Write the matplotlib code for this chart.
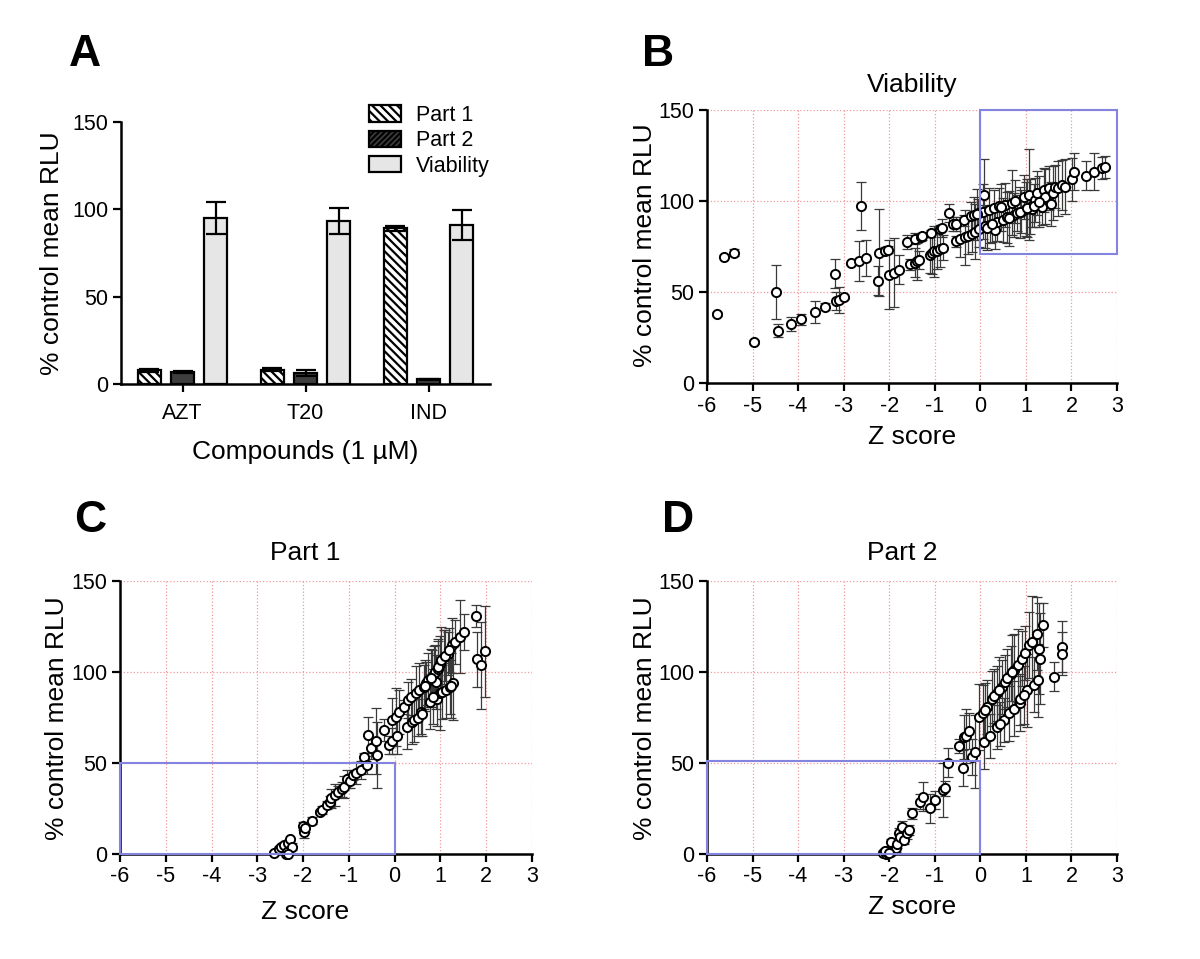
import matplotlib
matplotlib.use("Agg")
import matplotlib.pyplot as plt
from matplotlib.patches import Rectangle, Patch
import numpy as np

plt.rcParams['font.family'] = ['Liberation Sans', 'DejaVu Sans']
plt.rcParams['hatch.linewidth'] = 1.6
plt.rcParams['axes.unicode_minus'] = False

# ---------------- Panel A data ----------------
compounds = ["AZT", "T20", "IND"]
part1_vals = [7.8, 8.2, 89.1]
part1_err = [1.0, 1.0, 1.6]
part2_vals = [7.0, 6.3, 2.7]
part2_err = [0.5, 1.5, 0.3]
viab_vals = [95.0, 93.3, 91.2]
viab_err = [9.4, 7.6, 8.6]

# ---------------- Panel B (Viability) ----------------
b_z = [-5.77, -5.62, -5.41, -4.96, -4.48, -4.45, -4.16, -3.94, -3.64, -3.41,
       -3.18, -3.16, -3.10, -2.99, -2.84, -2.66, -2.61, -2.52, -2.24, -2.23,
       -2.10, -2.03, -2.01, -1.90, -1.79, -1.61, -1.54, -1.44, -1.43, -1.38,
       -1.34, -1.31, -1.27, -1.11, -1.09, -1.05, -1.01, -0.95, -0.89, -0.88,
       -0.85, -0.81, -0.69, -0.59, -0.54, -0.53, -0.44, -0.35, -0.33, -0.27,
       -0.21, -0.19, -0.14, -0.11, -0.05, -0.02, 0.08, 0.05, 0.11, 0.18,
       0.22, 0.30, 0.32, 0.36, 0.41, 0.49, 0.55, 0.59, 0.69, 0.73,
       0.81, 0.90, 0.95, 1.00, 1.06, 1.09, 1.14, 1.20, 1.24, 1.35,
       1.39, 1.43, 1.51, 1.55, 1.59, 1.64, 1.71, 1.80, 1.86, 2.02,
       2.06, 2.32, 2.50, 2.66, 2.74,
       -0.08, 0.14, 0.26, 0.45, 0.63, 0.77, 0.86, 1.03, 1.17, 1.29]
b_y = [38.0, 69.5, 71.7, 22.5, 49.9, 28.7, 32.4, 35.1, 39.0, 41.9,
       60.0, 45.0, 45.5, 47.0, 65.7, 67.1, 97.3, 68.6, 56.3, 71.7,
       72.8, 73.2, 59.4, 60.7, 62.2, 77.4, 65.3, 79.2, 66.2, 66.8,
       67.7, 80.1, 80.5, 70.4, 82.3, 71.7, 72.3, 72.6, 73.5, 84.7,
       85.1, 74.4, 93.3, 87.4, 87.4, 77.9, 79.0, 89.4, 80.1, 81.0,
       91.5, 82.1, 92.4, 83.2, 93.3, 84.5, 103.3, 94.2, 86.0, 95.1,
       86.9, 96.0, 83.8, 88.2, 97.0, 89.6, 97.9, 91.0, 99.1, 92.2,
       93.3, 94.2, 102.1, 95.5, 103.3, 96.9, 95.7, 100.6, 104.3, 96.9,
       106.1, 102.4, 107.0, 98.2, 104.3, 107.9, 107.0, 108.8, 107.9, 111.9,
       116.2, 113.8, 116.2, 118.3, 118.9,
       92.8, 85.3, 87.6, 96.5, 90.5, 99.8, 93.8, 96.2, 97.5, 99.6]
b_err = [1, 1, 2, 1, 15, 3.5, 4, 3, 6, 2,
         8, 5, 7, 1, 1, 11, 13, 10, 8, 24,
         2, 2, 19, 19, 8, 4, 3, 3, 8, 10,
         5, 2, 2, 10, 2, 12, 14, 10, 10, 2,
         5, 7, 5, 4, 4, 3, 10, 3, 15, 10,
         8, 10, 10, 15, 8, 10, 20, 15, 12, 12,
         10, 10, 10, 10, 10, 12, 12, 14, 18, 12,
         10, 12, 12, 15, 25, 15, 10, 12, 12, 10,
         12, 15, 12, 12, 15, 12, 15, 14, 15, 12,
         10, 8, 10, 6, 6,
         14, 12, 10, 13, 15, 12, 14, 16, 12, 14]

# ---------------- Panel C (Part 1) ----------------
c_z = [-2.64, -2.53, -2.48, -2.42, -2.38, -2.35, -2.32, -2.28, -2.24, -2.34,
       -2.01, -1.99, -1.95, -1.81, -1.64, -1.58, -1.48, -1.42, -1.38, -1.31,
       -1.24, -1.16, -1.11, -1.05, -0.97, -0.91, -0.85, -0.74, -0.68, -0.60,
       -0.58, -0.52, -0.41, -0.38, -0.23, -0.13, -0.05, -0.05, 0.04, 0.06,
       0.10, 0.20, 0.26, 0.30, 0.36, 0.38, 0.43, 0.46, 0.53, 0.57,
       0.63, 0.69, 0.73, 0.77, 0.81, 0.85, 0.89, 0.90, 0.92, 0.95,
       0.98, 1.00, 1.04, 1.08, 1.12, 1.16, 1.21, 1.26, 1.28, 1.32,
       1.43, 1.51, 1.77, 1.79, 1.89, 1.98,
       0.66, 0.80, 0.94, 1.02, 1.10, 1.18, 0.50, 0.60, 0.84, 1.24]
c_y = [0.4, 2.6, 3.7, 4.9, 0.0, 1.3, 5.9, 8.0, 4.0, 0.0,
       15.4, 11.9, 14.1, 18.3, 23.2, 24.1, 26.9, 28.7, 30.5, 32.4,
       34.2, 35.5, 36.9, 41.0, 40.2, 43.4, 44.6, 46.1, 53.4, 48.8,
       65.3, 58.0, 62.2, 54.3, 68.0, 59.8, 73.5, 62.2, 75.4, 64.8,
       78.1, 80.8, 69.9, 84.5, 86.3, 72.6, 73.5, 88.2, 90.0, 78.1,
       91.8, 93.7, 95.5, 83.6, 97.3, 99.1, 100.1, 94.6, 85.4, 101.9,
       88.2, 104.6, 89.1, 108.3, 90.0, 110.1, 91.8, 114.7, 93.7, 116.5,
       119.3, 122.0, 130.6, 107.0, 103.7, 111.4,
       92.5, 96.5, 103.0, 106.5, 109.0, 112.0, 75.0, 77.0, 86.5, 92.5]
c_err = [1, 1, 1, 1, 1, 1, 1, 1, 2, 1,
         2, 3, 2, 2, 1, 2, 2, 3, 5, 6,
         3, 4, 6, 5, 4, 3, 6, 5, 2, 5,
         10, 6, 18, 18, 6, 5, 12, 7, 16, 10,
         12, 4, 12, 10, 10, 12, 12, 15, 15, 12,
         12, 12, 15, 15, 15, 15, 15, 15, 15, 15,
         20, 15, 15, 15, 15, 12, 15, 15, 20, 12,
         20, 10, 6, 15, 24, 25,
         14, 16, 15, 18, 14, 12, 10, 12, 15, 18]

# ---------------- Panel D (Part 2) ----------------
d_z = [-2.13, -2.08, -2.03, -1.97, -1.95, -1.85, -1.82, -1.79, -1.76, -1.72,
       -1.68, -1.60, -1.56, -1.50, -1.33, -1.25, -1.11, -0.99, -0.82, -0.78,
       -0.72, -0.46, -0.38, -0.36, -0.31, -0.25, -0.19, -0.11, -0.02, 0.05,
       0.08, 0.14, 0.22, 0.26, 0.36, 0.37, 0.48, 0.52, 0.55, 0.63,
       0.67, 0.75, 0.75, 0.83, 0.87, 0.92, 0.99, 1.02, 1.06, 1.14,
       1.18, 1.24, 1.26, 1.28, 1.30, 1.38, 1.61, 1.79, 1.79,
       -2.10, -2.00, 0.30, 0.42, 0.58, 0.70, 0.88, 0.96, 0.10, 0.44]
d_y = [0.7, 0.0, 0.4, 1.3, 6.4, 3.1, 5.5, 11.3, 9.5, 15.0,
       7.7, 11.3, 13.2, 22.3, 28.7, 31.5, 25.1, 29.6, 35.1, 36.0,
       50.1, 59.3, 47.4, 64.4, 64.8, 67.7, 53.4, 56.2, 75.4, 77.6,
       61.6, 80.8, 64.8, 85.4, 69.9, 88.2, 91.8, 73.5, 94.6, 77.2,
       99.1, 101.0, 79.9, 103.7, 82.7, 107.4, 110.5, 90.0, 114.7, 116.5,
       93.1, 121.1, 95.5, 112.9, 107.4, 125.7, 97.3, 113.8, 110.1,
       1.5, 0.8, 86.8, 90.2, 96.5, 100.2, 85.0, 87.5, 79.0, 71.5]
d_err = [1, 1, 1, 1, 2, 2, 2, 3, 3, 3,
         2, 3, 3, 3, 4, 8, 8, 5, 15, 4,
         8, 4, 10, 12, 15, 10, 10, 20, 18, 15,
         15, 15, 12, 15, 12, 15, 15, 12, 15, 15,
         15, 20, 15, 20, 15, 15, 15, 20, 18, 25,
         15, 20, 20, 25, 25, 12, 8, 14, 12,
         1, 1, 15, 18, 16, 20, 14, 16, 15, 12]

W, H = 1200, 959
fig = plt.figure(figsize=(12, 9.59), dpi=100)

def frac_axes(left, right, top, bottom):
    return fig.add_axes([left / W, (H - bottom) / H, (right - left) / W, (bottom - top) / H])

TICK_FS = 15.5
LABEL_FS = 19

def style_axes(ax):
    for s in ["top", "right"]:
        ax.spines[s].set_visible(False)
    for s in ["left", "bottom"]:
        ax.spines[s].set_linewidth(1.8)
    ax.tick_params(direction="out", length=6, width=1.6, labelsize=TICK_FS, pad=3)

# ---------------- Panel A ----------------
axA = frac_axes(121, 490, 122, 384)
style_axes(axA)
x = np.arange(len(compounds))
off = 0.27
bw = 0.19
ekw = dict(elinewidth=1.6, capthick=1.6, capsize=7, ecolor="black")
axA.bar(x - off, part1_vals, bw, color="white", edgecolor="black", lw=1.6, hatch="\\\\\\\\",
        yerr=part1_err, error_kw=ekw, zorder=2)
axA.bar(x, part2_vals, bw, color="#3e3e3e", edgecolor="black", lw=1.6,
        yerr=part2_err, error_kw=ekw, zorder=2)
axA.bar(x + off, viab_vals, bw, color="#e6e6e6", edgecolor="black", lw=1.6,
        yerr=viab_err, error_kw=ekw, zorder=2)
axA.set_xlim(-0.5, 2.5)
axA.set_ylim(0, 150)
axA.set_yticks([0, 50, 100, 150])
axA.set_xticks(x)
axA.set_xticklabels(compounds, fontsize=15.5)
axA.tick_params(axis="x", pad=8)
handles = [Patch(facecolor="white", edgecolor="black", hatch="\\\\\\\\", lw=1.6, label="Part 1"),
           Patch(facecolor="#3e3e3e", edgecolor="black", hatch="//////", lw=1.6, label="Part 2"),
           Patch(facecolor="#e6e6e6", edgecolor="black", lw=1.6, label="Viability")]
axA.legend(handles=handles, loc="upper right", bbox_to_anchor=(1.022, 1.098), frameon=False,
           fontsize=15.5, handlelength=1.45, handleheight=0.8, handletextpad=0.7, labelspacing=0.2,
           borderaxespad=0)

# ---------------- Scatter panels ----------------
def scatter_panel(ax, zs, ys, es, rect):
    style_axes(ax)
    ax.set_xlim(-6, 3)
    ax.set_ylim(0, 150)
    ax.set_xticks(range(-6, 4))
    ax.set_yticks([0, 50, 100, 150])
    ax.grid(True, color="#f29a9a", ls=":", lw=0.9, zorder=0)
    ax.set_axisbelow(True)
    ax.errorbar(zs, ys, yerr=es, fmt="none", ecolor="#3a3a3a", elinewidth=0.9,
                capsize=3.5, capthick=0.9, zorder=3)
    ax.plot(zs, ys, "o", ms=6.6, mfc="white", mec="black", mew=1.4, zorder=4, clip_on=False)
    ax.add_patch(Rectangle(rect[0], rect[1], rect[2], fill=False, ec="#8383e0", lw=1.5,
                           zorder=5, clip_on=False))

axB = frac_axes(707, 1117, 110, 383)
scatter_panel(axB, b_z, b_y, b_err, ((0, 71), 3, 79))
axC = frac_axes(120, 532, 581, 854)
scatter_panel(axC, c_z, c_y, c_err, ((-6, 0), 6, 50))
axD = frac_axes(707, 1117, 581, 854)
scatter_panel(axD, d_z, d_y, d_err, ((-6, 0), 6, 51))

# ---------------- Texts ----------------
def ft(xp, yp, s, **kw):
    fig.text(xp / W, 1 - yp / H, s, ha="center", va="center", **kw)

ft(85, 55, "A", fontsize=32, fontweight="bold")
ft(658, 55, "B", fontsize=32, fontweight="bold")
ft(90, 520, "C", fontsize=32, fontweight="bold")
ft(678, 520, "D", fontsize=32, fontweight="bold")

ft(52, 253, "% control mean RLU", fontsize=LABEL_FS, rotation=90)
ft(645, 245, "% control mean RLU", fontsize=LABEL_FS, rotation=90)
ft(57, 718, "% control mean RLU", fontsize=LABEL_FS, rotation=90)
ft(645, 718, "% control mean RLU", fontsize=LABEL_FS, rotation=90)

ft(305, 452, "Compounds (1 µM)", fontsize=LABEL_FS)
ft(912, 437, "Z score", fontsize=LABEL_FS)
ft(305, 912, "Z score", fontsize=LABEL_FS)
ft(912, 907, "Z score", fontsize=LABEL_FS)

ft(912, 85, "Viability", fontsize=LABEL_FS)
ft(305, 553, "Part 1", fontsize=LABEL_FS)
ft(902, 553, "Part 2", fontsize=LABEL_FS)

fig.savefig("out.png", dpi=100, facecolor="white")
